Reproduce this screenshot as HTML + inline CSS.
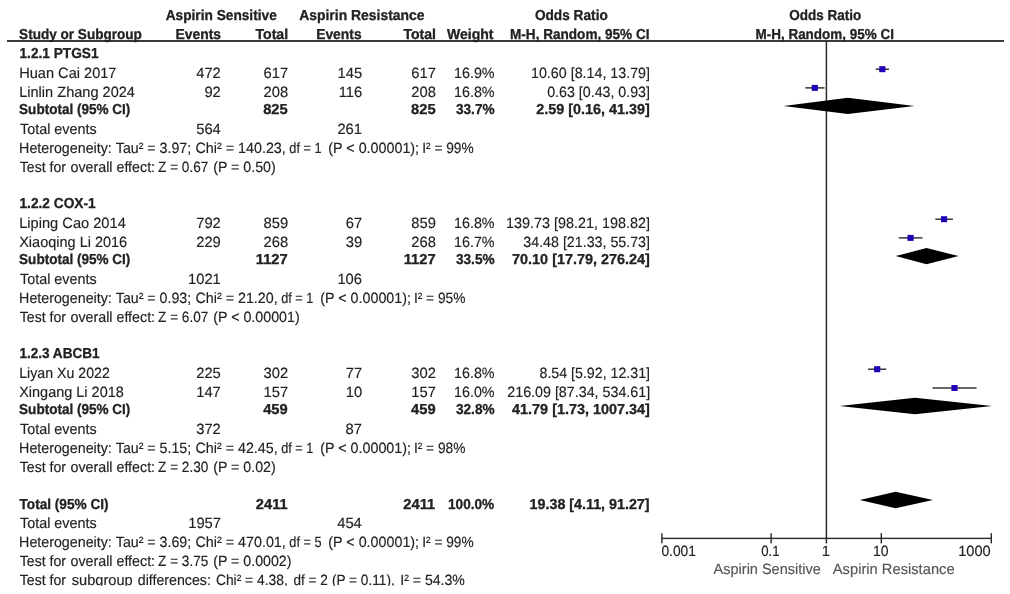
<!DOCTYPE html>
<html><head><meta charset="utf-8"><title>Forest plot</title>
<style>
html,body{margin:0;padding:0;background:#fff}
svg{display:block;font-family:"Liberation Sans",sans-serif;will-change:transform;text-rendering:geometricPrecision}
.b{font-weight:bold;font-size:14.4px;stroke:#222;stroke-width:0.3px}
.r{font-weight:normal;font-size:14.9px;stroke:#222;stroke-width:0.15px}
.g{stroke:#555}
</style></head>
<body>
<svg width="1010" height="594" viewBox="0 0 1010 594">
<rect x="0" y="0" width="1010" height="594" fill="#ffffff"/>
<defs><clipPath id="cb"><rect x="0" y="0" width="1010" height="585.8"/></clipPath></defs>
<rect x="7" y="40" width="997" height="2" fill="#3a3a3a"/>
<rect x="825.65" y="41" width="1.5" height="502.4" fill="#2a2a2a"/>
<rect x="661.2" y="537.70" width="330.70" height="1.4" fill="#2a2a2a"/>
<rect x="661.20" y="533.2" width="1.4" height="10.2" fill="#2a2a2a"/>
<rect x="770.40" y="533.2" width="1.4" height="10.2" fill="#2a2a2a"/>
<rect x="880.60" y="533.2" width="1.4" height="10.2" fill="#2a2a2a"/>
<rect x="990.60" y="533.2" width="1.4" height="10.2" fill="#2a2a2a"/>
<rect x="875.73" y="68.50" width="13.31" height="1.4" fill="#2a2a2a"/>
<rect x="879.24" y="66.20" width="6.2" height="6.0" fill="#2300b6"/>
<rect x="805.35" y="87.20" width="19.16" height="1.4" fill="#2a2a2a"/>
<rect x="811.69" y="84.90" width="6.2" height="6.0" fill="#2300b6"/>
<rect x="935.32" y="218.50" width="17.58" height="1.4" fill="#2a2a2a"/>
<rect x="940.96" y="216.20" width="6.2" height="6.0" fill="#2300b6"/>
<rect x="898.78" y="237.20" width="23.68" height="1.4" fill="#2a2a2a"/>
<rect x="907.47" y="234.90" width="6.2" height="6.0" fill="#2300b6"/>
<rect x="868.10" y="368.50" width="18.22" height="1.4" fill="#2a2a2a"/>
<rect x="874.07" y="366.20" width="6.2" height="6.0" fill="#2300b6"/>
<rect x="932.51" y="387.30" width="44.05" height="1.4" fill="#2a2a2a"/>
<rect x="951.39" y="385.00" width="6.2" height="6.0" fill="#2300b6"/>
<polygon points="783.60,105.90 847.80,97.70 914.50,105.90 847.80,114.10" fill="#000"/>
<polygon points="895.70,256.10 926.50,247.90 958.60,256.10 926.50,264.30" fill="#000"/>
<polygon points="839.70,406.00 915.00,397.80 992.00,406.00 915.00,414.20" fill="#000"/>
<polygon points="859.80,500.05 895.60,491.85 932.90,500.05 895.60,508.25" fill="#000"/>
<text class="b" x="165.64" y="20.20" textLength="111.16" lengthAdjust="spacingAndGlyphs" fill="#222">Aspirin Sensitive</text>
<text class="b" x="299.20" y="20.20" textLength="125.34" lengthAdjust="spacingAndGlyphs" fill="#222">Aspirin Resistance</text>
<text class="b" x="534.90" y="20.20" textLength="72.90" lengthAdjust="spacingAndGlyphs" fill="#222">Odds Ratio</text>
<text class="b" x="789.28" y="20.20" textLength="71.98" lengthAdjust="spacingAndGlyphs" fill="#222">Odds Ratio</text>
<text class="b" x="19.10" y="39.00" textLength="122.80" lengthAdjust="spacingAndGlyphs" fill="#222">Study or Subgroup</text>
<text class="b" x="175.50" y="39.00" textLength="45.60" lengthAdjust="spacingAndGlyphs" fill="#222">Events</text>
<text class="b" x="255.46" y="39.00" textLength="32.70" lengthAdjust="spacingAndGlyphs" fill="#222">Total</text>
<text class="b" x="316.20" y="39.00" textLength="45.40" lengthAdjust="spacingAndGlyphs" fill="#222">Events</text>
<text class="b" x="403.46" y="39.00" textLength="32.52" lengthAdjust="spacingAndGlyphs" fill="#222">Total</text>
<text class="b" x="446.92" y="39.00" textLength="46.62" lengthAdjust="spacingAndGlyphs" fill="#222">Weight</text>
<text class="b" x="510.00" y="39.00" textLength="139.50" lengthAdjust="spacingAndGlyphs" fill="#222">M-H, Random, 95% CI</text>
<text class="b" x="755.50" y="39.00" textLength="138.40" lengthAdjust="spacingAndGlyphs" fill="#222">M-H, Random, 95% CI</text>
<text class="b" x="19.50" y="57.80" textLength="79.00" lengthAdjust="spacingAndGlyphs" fill="#222">1.2.1 PTGS1</text>
<text class="r" x="19.20" y="77.70" textLength="97.30" lengthAdjust="spacingAndGlyphs" fill="#222">Huan Cai 2017</text>
<text class="r" x="196.19" y="77.70" textLength="24.61" lengthAdjust="spacingAndGlyphs" fill="#222">472</text>
<text class="r" x="263.59" y="77.70" textLength="24.61" lengthAdjust="spacingAndGlyphs" fill="#222">617</text>
<text class="r" x="337.59" y="77.70" textLength="24.61" lengthAdjust="spacingAndGlyphs" fill="#222">145</text>
<text class="r" x="411.29" y="77.70" textLength="24.61" lengthAdjust="spacingAndGlyphs" fill="#222">617</text>
<text class="r" x="454.06" y="77.70" textLength="40.55" lengthAdjust="spacingAndGlyphs" fill="#222">16.9%</text>
<text class="r" x="531.00" y="77.70" textLength="119.00" lengthAdjust="spacingAndGlyphs" fill="#222">10.60 [8.14, 13.79]</text>
<text class="r" x="19.20" y="96.80" textLength="115.80" lengthAdjust="spacingAndGlyphs" fill="#222">Linlin Zhang 2024</text>
<text class="r" x="204.39" y="96.80" textLength="16.41" lengthAdjust="spacingAndGlyphs" fill="#222">92</text>
<text class="r" x="263.59" y="96.80" textLength="24.61" lengthAdjust="spacingAndGlyphs" fill="#222">208</text>
<text class="r" x="338.69" y="96.80" textLength="23.51" lengthAdjust="spacingAndGlyphs" fill="#222">116</text>
<text class="r" x="411.29" y="96.80" textLength="24.61" lengthAdjust="spacingAndGlyphs" fill="#222">208</text>
<text class="r" x="454.06" y="96.80" textLength="40.55" lengthAdjust="spacingAndGlyphs" fill="#222">16.8%</text>
<text class="r" x="547.20" y="96.80" textLength="102.80" lengthAdjust="spacingAndGlyphs" fill="#222">0.63 [0.43, 0.93]</text>
<text class="b" x="19.10" y="113.80" textLength="111.30" lengthAdjust="spacingAndGlyphs" fill="#222">Subtotal (95% CI)</text>
<text class="b" x="263.20" y="113.80" textLength="24.50" lengthAdjust="spacingAndGlyphs" fill="#222">825</text>
<text class="b" x="411.10" y="113.80" textLength="24.50" lengthAdjust="spacingAndGlyphs" fill="#222">825</text>
<text class="b" x="455.97" y="113.80" textLength="38.63" lengthAdjust="spacingAndGlyphs" fill="#222">33.7%</text>
<text class="b" x="536.20" y="113.80" textLength="113.60" lengthAdjust="spacingAndGlyphs" fill="#222">2.59 [0.16, 41.39]</text>
<text class="r" x="20.00" y="134.20" textLength="76.62" lengthAdjust="spacingAndGlyphs" fill="#222">Total events</text>
<text class="r" x="196.19" y="134.20" textLength="24.61" lengthAdjust="spacingAndGlyphs" fill="#222">564</text>
<text class="r" x="337.39" y="134.20" textLength="24.61" lengthAdjust="spacingAndGlyphs" fill="#222">261</text>
<text class="r" x="19.10" y="152.90" textLength="92.70" lengthAdjust="spacingAndGlyphs" fill="#222">Heterogeneity:</text>
<text class="r" x="115.82" y="152.90" textLength="75.34" lengthAdjust="spacingAndGlyphs" fill="#222">Tau² = 3.97;</text>
<text class="r" x="195.50" y="152.90" textLength="90.30" lengthAdjust="spacingAndGlyphs" fill="#222">Chi² = 140.23,</text>
<text class="r" x="289.30" y="152.90" textLength="32.20" lengthAdjust="spacingAndGlyphs" fill="#222">df = 1</text>
<text class="r" x="328.30" y="152.90" textLength="90.80" lengthAdjust="spacingAndGlyphs" fill="#222">(P &lt; 0.00001);</text>
<text class="r" x="422.20" y="152.90" textLength="51.52" lengthAdjust="spacingAndGlyphs" fill="#222">I² = 99%</text>
<text class="r" x="19.82" y="171.60" textLength="46.26" lengthAdjust="spacingAndGlyphs" fill="#222">Test for</text>
<text class="r" x="70.44" y="171.60" textLength="84.64" lengthAdjust="spacingAndGlyphs" fill="#222">overall effect:</text>
<text class="r" x="158.10" y="171.60" textLength="50.20" lengthAdjust="spacingAndGlyphs" fill="#222">Z = 0.67</text>
<text class="r" x="213.20" y="171.60" textLength="62.50" lengthAdjust="spacingAndGlyphs" fill="#222">(P = 0.50)</text>
<text class="b" x="19.50" y="207.80" textLength="76.10" lengthAdjust="spacingAndGlyphs" fill="#222">1.2.2 COX-1</text>
<text class="r" x="19.20" y="227.70" textLength="106.60" lengthAdjust="spacingAndGlyphs" fill="#222">Liping Cao 2014</text>
<text class="r" x="196.19" y="227.70" textLength="24.61" lengthAdjust="spacingAndGlyphs" fill="#222">792</text>
<text class="r" x="263.59" y="227.70" textLength="24.61" lengthAdjust="spacingAndGlyphs" fill="#222">859</text>
<text class="r" x="345.79" y="227.70" textLength="16.41" lengthAdjust="spacingAndGlyphs" fill="#222">67</text>
<text class="r" x="411.29" y="227.70" textLength="24.61" lengthAdjust="spacingAndGlyphs" fill="#222">859</text>
<text class="r" x="454.06" y="227.70" textLength="40.55" lengthAdjust="spacingAndGlyphs" fill="#222">16.8%</text>
<text class="r" x="506.00" y="227.70" textLength="144.00" lengthAdjust="spacingAndGlyphs" fill="#222">139.73 [98.21, 198.82]</text>
<text class="r" x="19.20" y="246.80" textLength="108.00" lengthAdjust="spacingAndGlyphs" fill="#222">Xiaoqing Li 2016</text>
<text class="r" x="196.19" y="246.80" textLength="24.61" lengthAdjust="spacingAndGlyphs" fill="#222">229</text>
<text class="r" x="263.59" y="246.80" textLength="24.61" lengthAdjust="spacingAndGlyphs" fill="#222">268</text>
<text class="r" x="345.79" y="246.80" textLength="16.41" lengthAdjust="spacingAndGlyphs" fill="#222">39</text>
<text class="r" x="411.29" y="246.80" textLength="24.61" lengthAdjust="spacingAndGlyphs" fill="#222">268</text>
<text class="r" x="454.06" y="246.80" textLength="40.55" lengthAdjust="spacingAndGlyphs" fill="#222">16.7%</text>
<text class="r" x="523.30" y="246.80" textLength="126.70" lengthAdjust="spacingAndGlyphs" fill="#222">34.48 [21.33, 55.73]</text>
<text class="b" x="19.10" y="263.80" textLength="111.30" lengthAdjust="spacingAndGlyphs" fill="#222">Subtotal (95% CI)</text>
<text class="b" x="255.84" y="263.80" textLength="31.86" lengthAdjust="spacingAndGlyphs" fill="#222">1127</text>
<text class="b" x="403.74" y="263.80" textLength="31.86" lengthAdjust="spacingAndGlyphs" fill="#222">1127</text>
<text class="b" x="455.97" y="263.80" textLength="38.63" lengthAdjust="spacingAndGlyphs" fill="#222">33.5%</text>
<text class="b" x="512.10" y="263.80" textLength="137.70" lengthAdjust="spacingAndGlyphs" fill="#222">70.10 [17.79, 276.24]</text>
<text class="r" x="20.00" y="284.20" textLength="76.62" lengthAdjust="spacingAndGlyphs" fill="#222">Total events</text>
<text class="r" x="187.99" y="284.20" textLength="32.81" lengthAdjust="spacingAndGlyphs" fill="#222">1021</text>
<text class="r" x="337.39" y="284.20" textLength="24.61" lengthAdjust="spacingAndGlyphs" fill="#222">106</text>
<text class="r" x="19.10" y="302.90" textLength="92.70" lengthAdjust="spacingAndGlyphs" fill="#222">Heterogeneity:</text>
<text class="r" x="115.82" y="302.90" textLength="75.34" lengthAdjust="spacingAndGlyphs" fill="#222">Tau² = 0.93;</text>
<text class="r" x="195.50" y="302.90" textLength="82.15" lengthAdjust="spacingAndGlyphs" fill="#222">Chi² = 21.20,</text>
<text class="r" x="281.15" y="302.90" textLength="32.20" lengthAdjust="spacingAndGlyphs" fill="#222">df = 1</text>
<text class="r" x="320.31" y="302.90" textLength="90.64" lengthAdjust="spacingAndGlyphs" fill="#222">(P &lt; 0.00001);</text>
<text class="r" x="413.93" y="302.90" textLength="51.52" lengthAdjust="spacingAndGlyphs" fill="#222">I² = 95%</text>
<text class="r" x="19.82" y="321.60" textLength="46.26" lengthAdjust="spacingAndGlyphs" fill="#222">Test for</text>
<text class="r" x="70.44" y="321.60" textLength="84.64" lengthAdjust="spacingAndGlyphs" fill="#222">overall effect:</text>
<text class="r" x="158.10" y="321.60" textLength="50.20" lengthAdjust="spacingAndGlyphs" fill="#222">Z = 6.07</text>
<text class="r" x="213.20" y="321.60" textLength="86.50" lengthAdjust="spacingAndGlyphs" fill="#222">(P &lt; 0.00001)</text>
<text class="b" x="19.50" y="357.80" textLength="80.00" lengthAdjust="spacingAndGlyphs" fill="#222">1.2.3 ABCB1</text>
<text class="r" x="19.20" y="377.70" textLength="90.70" lengthAdjust="spacingAndGlyphs" fill="#222">Liyan Xu 2022</text>
<text class="r" x="196.19" y="377.70" textLength="24.61" lengthAdjust="spacingAndGlyphs" fill="#222">225</text>
<text class="r" x="263.59" y="377.70" textLength="24.61" lengthAdjust="spacingAndGlyphs" fill="#222">302</text>
<text class="r" x="345.79" y="377.70" textLength="16.41" lengthAdjust="spacingAndGlyphs" fill="#222">77</text>
<text class="r" x="411.29" y="377.70" textLength="24.61" lengthAdjust="spacingAndGlyphs" fill="#222">302</text>
<text class="r" x="454.06" y="377.70" textLength="40.55" lengthAdjust="spacingAndGlyphs" fill="#222">16.8%</text>
<text class="r" x="539.50" y="377.70" textLength="110.50" lengthAdjust="spacingAndGlyphs" fill="#222">8.54 [5.92, 12.31]</text>
<text class="r" x="19.20" y="396.80" textLength="104.60" lengthAdjust="spacingAndGlyphs" fill="#222">Xingang Li 2018</text>
<text class="r" x="196.19" y="396.80" textLength="24.61" lengthAdjust="spacingAndGlyphs" fill="#222">147</text>
<text class="r" x="263.59" y="396.80" textLength="24.61" lengthAdjust="spacingAndGlyphs" fill="#222">157</text>
<text class="r" x="345.79" y="396.80" textLength="16.41" lengthAdjust="spacingAndGlyphs" fill="#222">10</text>
<text class="r" x="411.29" y="396.80" textLength="24.61" lengthAdjust="spacingAndGlyphs" fill="#222">157</text>
<text class="r" x="454.06" y="396.80" textLength="40.55" lengthAdjust="spacingAndGlyphs" fill="#222">16.0%</text>
<text class="r" x="507.28" y="396.80" textLength="142.88" lengthAdjust="spacingAndGlyphs" fill="#222">216.09 [87.34, 534.61]</text>
<text class="b" x="19.10" y="413.80" textLength="111.30" lengthAdjust="spacingAndGlyphs" fill="#222">Subtotal (95% CI)</text>
<text class="b" x="263.20" y="413.80" textLength="24.50" lengthAdjust="spacingAndGlyphs" fill="#222">459</text>
<text class="b" x="411.10" y="413.80" textLength="24.50" lengthAdjust="spacingAndGlyphs" fill="#222">459</text>
<text class="b" x="455.97" y="413.80" textLength="38.63" lengthAdjust="spacingAndGlyphs" fill="#222">32.8%</text>
<text class="b" x="512.10" y="413.80" textLength="137.70" lengthAdjust="spacingAndGlyphs" fill="#222">41.79 [1.73, 1007.34]</text>
<text class="r" x="20.00" y="434.20" textLength="76.62" lengthAdjust="spacingAndGlyphs" fill="#222">Total events</text>
<text class="r" x="196.19" y="434.20" textLength="24.61" lengthAdjust="spacingAndGlyphs" fill="#222">372</text>
<text class="r" x="345.59" y="434.20" textLength="16.41" lengthAdjust="spacingAndGlyphs" fill="#222">87</text>
<text class="r" x="19.10" y="452.90" textLength="92.70" lengthAdjust="spacingAndGlyphs" fill="#222">Heterogeneity:</text>
<text class="r" x="115.82" y="452.90" textLength="75.34" lengthAdjust="spacingAndGlyphs" fill="#222">Tau² = 5.15;</text>
<text class="r" x="195.50" y="452.90" textLength="82.15" lengthAdjust="spacingAndGlyphs" fill="#222">Chi² = 42.45,</text>
<text class="r" x="281.15" y="452.90" textLength="32.20" lengthAdjust="spacingAndGlyphs" fill="#222">df = 1</text>
<text class="r" x="320.31" y="452.90" textLength="90.64" lengthAdjust="spacingAndGlyphs" fill="#222">(P &lt; 0.00001);</text>
<text class="r" x="413.93" y="452.90" textLength="51.52" lengthAdjust="spacingAndGlyphs" fill="#222">I² = 98%</text>
<text class="r" x="19.82" y="471.60" textLength="46.26" lengthAdjust="spacingAndGlyphs" fill="#222">Test for</text>
<text class="r" x="70.44" y="471.60" textLength="84.64" lengthAdjust="spacingAndGlyphs" fill="#222">overall effect:</text>
<text class="r" x="158.10" y="471.60" textLength="50.20" lengthAdjust="spacingAndGlyphs" fill="#222">Z = 2.30</text>
<text class="r" x="213.20" y="471.60" textLength="62.50" lengthAdjust="spacingAndGlyphs" fill="#222">(P = 0.02)</text>
<text class="b" x="19.50" y="508.60" textLength="89.10" lengthAdjust="spacingAndGlyphs" fill="#222">Total (95% CI)</text>
<text class="b" x="255.84" y="508.60" textLength="31.86" lengthAdjust="spacingAndGlyphs" fill="#222">2411</text>
<text class="b" x="403.34" y="508.60" textLength="31.86" lengthAdjust="spacingAndGlyphs" fill="#222">2411</text>
<text class="b" x="447.99" y="508.60" textLength="46.21" lengthAdjust="spacingAndGlyphs" fill="#222">100.0%</text>
<text class="b" x="529.60" y="508.60" textLength="120.00" lengthAdjust="spacingAndGlyphs" fill="#222">19.38 [4.11, 91.27]</text>
<text class="r" x="20.00" y="528.00" textLength="76.62" lengthAdjust="spacingAndGlyphs" fill="#222">Total events</text>
<text class="r" x="188.19" y="528.00" textLength="32.81" lengthAdjust="spacingAndGlyphs" fill="#222">1957</text>
<text class="r" x="337.19" y="528.00" textLength="24.61" lengthAdjust="spacingAndGlyphs" fill="#222">454</text>
<text class="r" x="19.10" y="546.90" textLength="92.70" lengthAdjust="spacingAndGlyphs" fill="#222">Heterogeneity:</text>
<text class="r" x="115.82" y="546.90" textLength="75.34" lengthAdjust="spacingAndGlyphs" fill="#222">Tau² = 3.69;</text>
<text class="r" x="195.50" y="546.90" textLength="90.30" lengthAdjust="spacingAndGlyphs" fill="#222">Chi² = 470.01,</text>
<text class="r" x="289.30" y="546.90" textLength="32.20" lengthAdjust="spacingAndGlyphs" fill="#222">df = 5</text>
<text class="r" x="328.30" y="546.90" textLength="90.80" lengthAdjust="spacingAndGlyphs" fill="#222">(P &lt; 0.00001);</text>
<text class="r" x="422.20" y="546.90" textLength="51.52" lengthAdjust="spacingAndGlyphs" fill="#222">I² = 99%</text>
<text class="r" x="19.82" y="565.70" textLength="46.26" lengthAdjust="spacingAndGlyphs" fill="#222">Test for</text>
<text class="r" x="70.44" y="565.70" textLength="84.64" lengthAdjust="spacingAndGlyphs" fill="#222">overall effect:</text>
<text class="r" x="158.10" y="565.70" textLength="50.20" lengthAdjust="spacingAndGlyphs" fill="#222">Z = 3.75</text>
<text class="r" x="213.20" y="565.70" textLength="78.30" lengthAdjust="spacingAndGlyphs" fill="#222">(P = 0.0002)</text>
<text class="r" x="19.82" y="584.60" textLength="46.18" lengthAdjust="spacingAndGlyphs" fill="#222" clip-path="url(#cb)">Test for</text>
<text class="r" x="71.74" y="584.60" textLength="60.98" lengthAdjust="spacingAndGlyphs" fill="#222" clip-path="url(#cb)">subgroup</text>
<text class="r" x="137.74" y="584.60" textLength="73.14" lengthAdjust="spacingAndGlyphs" fill="#222" clip-path="url(#cb)">differences:</text>
<text class="r" x="215.90" y="584.60" textLength="71.90" lengthAdjust="spacingAndGlyphs" fill="#222" clip-path="url(#cb)">Chi² = 4.38,</text>
<text class="r" x="293.40" y="584.60" textLength="34.40" lengthAdjust="spacingAndGlyphs" fill="#222" clip-path="url(#cb)">df = 2</text>
<text class="r" x="331.90" y="584.60" textLength="62.90" lengthAdjust="spacingAndGlyphs" fill="#222" clip-path="url(#cb)">(P = 0.11),</text>
<text class="r" x="400.30" y="584.60" textLength="64.60" lengthAdjust="spacingAndGlyphs" fill="#222" clip-path="url(#cb)">I² = 54.3%</text>
<text class="r" x="661.40" y="556.10" textLength="34.50" lengthAdjust="spacingAndGlyphs" fill="#222">0.001</text>
<text class="r" x="761.30" y="556.10" textLength="18.30" lengthAdjust="spacingAndGlyphs" fill="#222">0.1</text>
<text class="r" x="825.90" y="556.10" text-anchor="middle" fill="#222">1</text>
<text class="r" x="872.96" y="556.10" textLength="15.56" lengthAdjust="spacingAndGlyphs" fill="#222">10</text>
<text class="r" x="958.20" y="556.10" textLength="32.50" lengthAdjust="spacingAndGlyphs" fill="#222">1000</text>
<text class="r g" x="713.60" y="573.60" textLength="107.20" lengthAdjust="spacingAndGlyphs" fill="#555">Aspirin Sensitive</text>
<text class="r g" x="832.82" y="573.60" textLength="121.80" lengthAdjust="spacingAndGlyphs" fill="#555">Aspirin Resistance</text>
</svg>
</body></html>
